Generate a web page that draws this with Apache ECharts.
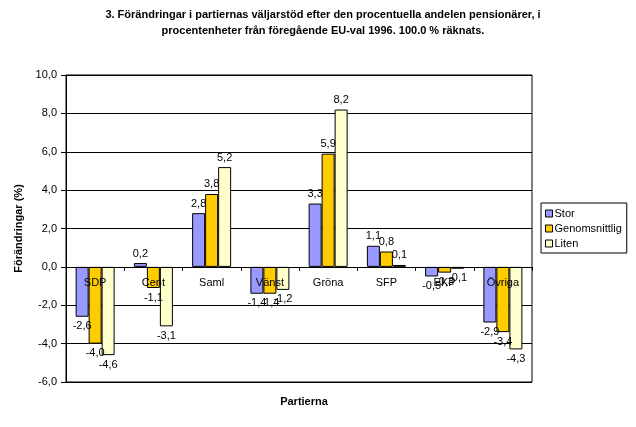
<!DOCTYPE html>
<html><head><meta charset="utf-8">
<script src="https://cdn.jsdelivr.net/npm/echarts@6/dist/echarts.min.js"></script>
<style>html,body{margin:0;padding:0;background:#fff}#c{width:636px;height:427px}</style>
</head><body><div id="c"></div>
<script>
const categories = ['SDP', 'Cent', 'Saml', 'Vänst', 'Gröna', 'SFP', 'EKP', 'Övriga'];
const stor = [-2.6, 0.2, 2.8, -1.4, 3.3, 1.1, -0.5, -2.9];
const genomsnittlig = [-4.0, -1.1, 3.8, -1.4, 5.9, 0.8, -0.3, -3.4];
const liten = [-4.6, -3.1, 5.2, -1.2, 8.2, 0.1, -0.1, -4.3];
const seriesNames = ['Stor', 'Genomsnittlig', 'Liten'];
const yTicks = [-6, -4, -2, 0, 2, 4, 6, 8, 10];

const colors = ['#9999FF', '#FFCC00', '#FFFFCC'];
const font = 'Liberation Sans, Arial, sans-serif';
const fmt = v => v.toFixed(1).replace('.', ',');
const gridTop = 75, gridBottomPx = 382;
const yMin = yTicks[0], yMax = yTicks[yTicks.length - 1];
const zeroOffset = -(gridBottomPx - gridTop) * (0 - yMin) / (yMax - yMin);

function mk(name, arr, i) {
  return {
    name: name, type: 'bar', barWidth: 13, barGap: '0%', barCategoryGap: '33%',
    itemStyle: { color: colors[i], borderColor: '#000', borderWidth: 1 },
    data: arr.map(v => ({ value: v, label: { position: v < 0 ? 'bottom' : 'top' } })),
    label: { show: true, distance: 4, color: '#000', fontFamily: font, fontSize: 11,
      formatter: p => fmt(p.value) }
  };
}

const chart = echarts.init(document.getElementById('c'), null, { renderer: 'canvas' });
chart.setOption({
  animation: false,
  backgroundColor: '#fff',
  title: [{
    text: '3. Förändringar i partiernas väljarstöd efter den procentuella andelen pensionärer, i\nprocentenheter från föregående EU-val 1996. 100.0 % räknats.',
    left: 318, textAlign: 'center', top: 2,
    textStyle: { fontFamily: font, fontSize: 11, fontWeight: 'bold', color: '#000', lineHeight: 16 }
  }, {
    text: 'Partierna', left: 299, textAlign: 'center', top: 391,
    textStyle: { fontFamily: font, fontSize: 11, fontWeight: 'bold', color: '#000' }
  }],
  legend: {
    orient: 'vertical', left: 541, top: 203,
    padding: [5, 5, 4, 4], itemGap: 4, itemWidth: 7, itemHeight: 7,
    borderColor: '#000', borderWidth: 1, backgroundColor: '#fff',
    icon: 'rect',
    itemStyle: { borderColor: '#000', borderWidth: 1 },
    textStyle: { fontFamily: font, fontSize: 11, color: '#000', padding: [0, 0, 0, -3] },
    data: seriesNames
  },
  grid: { left: 66, top: gridTop, right: 104, bottom: 427 - gridBottomPx, show: true, borderColor: '#000', borderWidth: 1, backgroundColor: 'transparent' },
  xAxis: {
    type: 'category', data: categories, z: 10, offset: zeroOffset,
    axisLine: { onZero: false, lineStyle: { color: '#000', width: 1 } },
    axisTick: { show: true, length: 4, lineStyle: { color: '#000' } },
    axisLabel: { color: '#000', fontFamily: font, fontSize: 11, margin: 11 }
  },
  yAxis: {
    type: 'value', min: yMin, max: yMax, interval: 2,
    name: 'Förändringar (%)', nameLocation: 'middle', nameGap: 42,
    nameTextStyle: { fontFamily: font, fontSize: 11, fontWeight: 'bold', color: '#000' },
    axisLine: { show: true, lineStyle: { color: '#000' } },
    axisTick: { show: true, length: 5, lineStyle: { color: '#000' } },
    splitLine: { show: true, lineStyle: { color: '#000', width: 1 } },
    axisLabel: { color: '#000', fontFamily: font, fontSize: 11, margin: 9, formatter: v => fmt(v) }
  },
  series: [mk(seriesNames[0], stor, 0), mk(seriesNames[1], genomsnittlig, 1), mk(seriesNames[2], liten, 2)]
});
</script></body></html>
